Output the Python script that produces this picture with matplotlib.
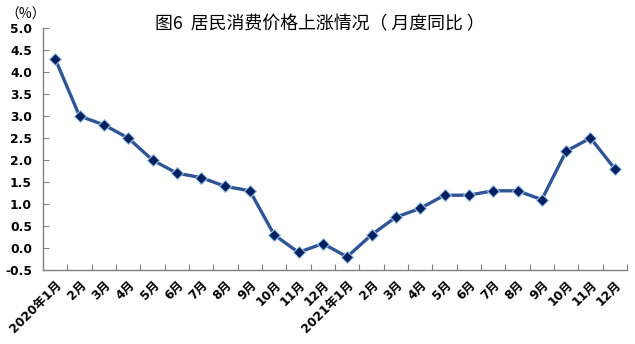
import matplotlib
matplotlib.use("Agg")
from matplotlib import pyplot as plt

# 居民消费价格月度同比
months = ["2020年1月", "2月", "3月", "4月", "5月", "6月", "7月", "8月", "9月", "10月", "11月", "12月",
          "2021年1月", "2月", "3月", "4月", "5月", "6月", "7月", "8月", "9月", "10月", "11月", "12月"]
cpi = [4.3, 3.0, 2.8, 2.5, 2.0, 1.7, 1.6, 1.4, 1.3, 0.3, -0.1, 0.1,
       -0.2, 0.3, 0.7, 0.9, 1.2, 1.2, 1.3, 1.3, 1.1, 2.2, 2.5, 1.8]
yticks = [-0.5, 0.0, 0.5, 1.0, 1.5, 2.0, 2.5, 3.0, 3.5, 4.0, 4.5, 5.0]

fam = ["DejaVu Sans", "Noto Sans CJK SC"]
cjk = ["Noto Sans CJK SC", "DejaVu Sans"]

fig = plt.figure(figsize=(6.35, 3.44), dpi=100)
ax = fig.add_axes([43 / 635, 74 / 344, 584 / 635, 242 / 344])

x = list(range(len(cpi)))
ax.plot(x, cpi, color="#2F5597", linewidth=2.4, marker="D", markersize=6,
        markerfacecolor="#002060", markeredgecolor="#9DC3E6", markeredgewidth=0.8, zorder=3)

ax.set_xlim(-0.5, len(cpi) - 0.5)
ax.set_ylim(-0.5, 5.0)
ax.set_yticks(yticks)
ax.set_yticklabels(["%.1f" % v for v in yticks], fontfamily=fam, fontweight="bold", fontsize=8.8)

# 刻度线在类别之间，标签在类别中心
ax.set_xticks([i + 0.5 for i in range(len(cpi))], minor=False)
ax.set_xticklabels([])
ax.set_xticks(x, minor=True)
ax.set_xticklabels(months, minor=True, rotation=45, ha="right", va="top",
                   rotation_mode="anchor", fontfamily=fam, fontweight="bold", fontsize=8.8)
ax.tick_params(axis="x", which="major", direction="in", length=4, color="#808080")
ax.tick_params(axis="x", which="minor", length=0, pad=6)
ax.tick_params(axis="y", direction="in", length=4, color="#808080", pad=8)

for s in ["top", "right"]:
    ax.spines[s].set_visible(False)
for s in ["left", "bottom"]:
    ax.spines[s].set_color("#808080")
    ax.spines[s].set_linewidth(1.0)

fig.text(320 / 635, 1 - 24 / 344, "图6  居民消费价格上涨情况（ 月度同比 ）", ha="center", va="center",
         fontfamily=cjk, fontsize=12.9)
fig.text(5 / 635, 1 - 15 / 344, "（%）", ha="left", va="center", fontfamily=cjk, fontsize=10)

fig.savefig("out.png", dpi=100)
